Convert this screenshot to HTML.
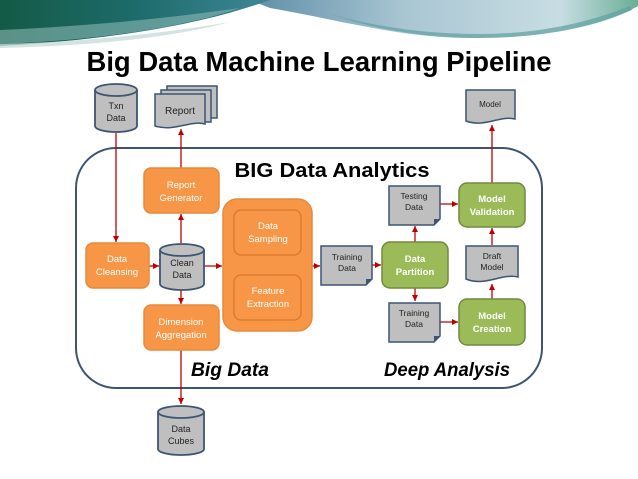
<!DOCTYPE html>
<html><head><meta charset="utf-8"><style>
html,body{margin:0;padding:0;background:#fff;width:638px;height:479px;overflow:hidden}
svg{display:block}
text{font-family:"Liberation Sans",sans-serif}
</style></head><body>
<svg width="638" height="479" viewBox="0 0 638 479" xmlns="http://www.w3.org/2000/svg">
<defs>
<linearGradient id="g1" x1="0" y1="0" x2="1" y2="0">
<stop offset="0" stop-color="#145a45"/><stop offset="0.5" stop-color="#1d6b6a"/><stop offset="1" stop-color="#3f8796"/>
</linearGradient>
<linearGradient id="g2" x1="0" y1="0" x2="1" y2="0">
<stop offset="0" stop-color="#5f8ea6"/><stop offset="0.4" stop-color="#a9c6d3"/><stop offset="0.8" stop-color="#c8dde3"/><stop offset="1" stop-color="#6aae95"/>
</linearGradient>
<marker id="ar" markerWidth="8" markerHeight="8" refX="6" refY="3" orient="auto" markerUnits="userSpaceOnUse"><path d="M0,0 L6,3 L0,6 z" fill="#c00000"/></marker>
<marker id="as" markerWidth="8" markerHeight="8" refX="0" refY="3" orient="auto" markerUnits="userSpaceOnUse"><path d="M6,0 L0,3 L6,6 z" fill="#c00000"/></marker>
</defs>
<!-- banner -->
<path d="M250,0 H638 V6 C600,28 540,38 470,38 C400,38 340,20 270,8 Z" fill="url(#g2)"/>
<path d="M0,0 H270 C220,18 140,38 0,46 Z" fill="url(#g1)"/>
<path d="M0,30 C90,26 170,18 240,8 C180,28 100,40 0,44 Z" fill="#8ab7b4" opacity="0.6"/>
<path d="M0,44 C80,42 160,34 230,22 C170,38 90,46 0,48 Z" fill="#c7dcd9" opacity="0.8"/>
<path d="M330,14 C380,28 430,34 480,34 C540,34 590,22 630,6 L632,10 C590,28 540,38 480,38 C420,38 370,28 330,14 Z" fill="#5e9fa0" opacity="0.7"/>

<text x="319" y="71" text-anchor="middle" font-size="28" font-weight="bold" fill="#000" textLength="465" lengthAdjust="spacingAndGlyphs">Big Data Machine Learning Pipeline</text>

<rect x="76" y="148" width="466" height="240" rx="40" fill="none" stroke="#3d5573" stroke-width="2"/>
<text x="332" y="177" text-anchor="middle" font-size="20" font-weight="bold" fill="#000" textLength="195" lengthAdjust="spacingAndGlyphs">BIG Data Analytics</text>
<text x="230" y="376" text-anchor="middle" font-size="19" font-weight="bold" font-style="italic" fill="#000" textLength="78" lengthAdjust="spacingAndGlyphs">Big Data</text>
<text x="447" y="376" text-anchor="middle" font-size="19" font-weight="bold" font-style="italic" fill="#000" textLength="126" lengthAdjust="spacingAndGlyphs">Deep Analysis</text>

<g stroke="#c00000" stroke-width="1.3" fill="none">
<line x1="116" y1="133" x2="116" y2="242" marker-end="url(#ar)"/>
<line x1="181" y1="168" x2="181" y2="129" marker-end="url(#ar)"/>
<line x1="181" y1="243" x2="181" y2="214" marker-end="url(#ar)"/>
<line x1="181" y1="290" x2="181" y2="304" marker-end="url(#ar)"/>
<line x1="181" y1="350" x2="181" y2="404" marker-end="url(#ar)"/>
<line x1="149" y1="266" x2="159" y2="266" marker-end="url(#ar)"/>
<line x1="204" y1="266" x2="222" y2="266" marker-end="url(#ar)"/>
<line x1="312" y1="266" x2="320" y2="266" marker-end="url(#ar)"/>
<line x1="268" y1="258" x2="268" y2="273" marker-end="url(#ar)" marker-start="url(#as)"/>
<line x1="372" y1="265" x2="381" y2="265" marker-end="url(#ar)"/>
<line x1="415" y1="242" x2="415" y2="226" marker-end="url(#ar)"/>
<line x1="415" y1="288" x2="415" y2="301" marker-end="url(#ar)"/>
<line x1="440" y1="204" x2="458" y2="204" marker-end="url(#ar)"/>
<line x1="440" y1="322" x2="458" y2="322" marker-end="url(#ar)"/>
<line x1="492" y1="299" x2="492" y2="284" marker-end="url(#ar)"/>
<line x1="492" y1="245" x2="492" y2="228" marker-end="url(#ar)"/>
<line x1="492" y1="183" x2="492" y2="125" marker-end="url(#ar)"/>
</g>

<g stroke="#3d5573" stroke-width="1.8" fill="#bfbfbf">
<path d="M95,90 V126 A21,6 0 0 0 137,126 V90"/><ellipse cx="116" cy="90" rx="21" ry="6"/>
<path d="M160,250 V284 A22,6 0 0 0 204,284 V250"/><ellipse cx="182" cy="250" rx="22" ry="6"/>
<path d="M158,412 V449 A23,6 0 0 0 204,449 V412"/><ellipse cx="181" cy="412" rx="23" ry="6"/>
</g>
<g font-size="9" fill="#222" text-anchor="middle">
<text x="116" y="109">Txn</text><text x="116" y="121">Data</text>
<text x="182" y="266">Clean</text><text x="182" y="278">Data</text>
<text x="181" y="432">Data</text><text x="181" y="444">Cubes</text>
</g>

<g stroke="#3d5573" stroke-width="1.5" fill="#bfbfbf">
<path d="M167,86 H217 V118 H167 Z"/>
<path d="M161,90 H211 V122 H161 Z"/>
<path d="M155,94 H205 V124 C190,120 175,132 155,126 Z"/>
</g>
<text x="180" y="114" font-size="10" text-anchor="middle" fill="#222">Report</text>

<path d="M466,90 H515 V119 C500,115 485,128 466,121 Z" fill="#bfbfbf" stroke="#3d5573" stroke-width="1.5"/>
<text x="490" y="107" font-size="8" text-anchor="middle" fill="#222">Model</text>
<path d="M466,246 H518 V277 C502,273 485,287 466,279 Z" fill="#bfbfbf" stroke="#3d5573" stroke-width="1.5"/>
<text x="492" y="259" font-size="8.5" text-anchor="middle" fill="#222">Draft</text>
<text x="492" y="270" font-size="8.5" text-anchor="middle" fill="#222">Model</text>

<g stroke="#3d5573" stroke-width="1.5" fill="#bfbfbf">
<path d="M321,246 H372 V279 L366,285 H321 Z"/>
<path d="M389,186 H440 V219 L434,225 H389 Z"/>
<path d="M389,303 H440 V336 L434,342 H389 Z"/>
</g>
<g fill="#3d5573"><path d="M372,279 L366,285 L366,279 Z"/><path d="M440,219 L434,225 L434,219 Z"/><path d="M440,336 L434,342 L434,336 Z"/></g>
<g font-size="8.5" text-anchor="middle" fill="#222">
<text x="347" y="260">Training</text><text x="347" y="271">Data</text>
<text x="414" y="199">Testing</text><text x="414" y="210">Data</text>
<text x="414" y="316">Training</text><text x="414" y="327">Data</text>
</g>

<g fill="#f79646" stroke="#e68a3d" stroke-width="1.5">
<rect x="144" y="168" width="75" height="45" rx="7"/>
<rect x="86" y="243" width="63" height="45" rx="7"/>
<rect x="144" y="305" width="75" height="45" rx="7"/>
<rect x="223" y="199" width="89" height="132" rx="14"/>
</g>
<g fill="none" stroke="#d9782c" stroke-width="1.3">
<rect x="234" y="210" width="67" height="45" rx="7"/>
<rect x="234" y="275" width="67" height="45" rx="7"/>
</g>
<g font-size="9.5" text-anchor="middle" fill="#fff">
<text x="181" y="188">Report</text><text x="181" y="201">Generator</text>
<text x="117" y="262">Data</text><text x="117" y="275">Cleansing</text>
<text x="181" y="325">Dimension</text><text x="181" y="338">Aggregation</text>
<text x="268" y="229">Data</text><text x="268" y="242">Sampling</text>
<text x="268" y="294">Feature</text><text x="268" y="307">Extraction</text>
</g>

<g fill="#9bbb59" stroke="#71893f" stroke-width="1.5">
<rect x="382" y="242" width="66" height="46" rx="8"/>
<rect x="459" y="183" width="66" height="44" rx="8"/>
<rect x="459" y="299" width="66" height="46" rx="8"/>
</g>
<g font-size="9.5" font-weight="bold" text-anchor="middle" fill="#fff">
<text x="415" y="262">Data</text><text x="415" y="275">Partition</text>
<text x="492" y="202">Model</text><text x="492" y="215">Validation</text>
<text x="492" y="319">Model</text><text x="492" y="332">Creation</text>
</g>
</svg>
</body></html>
